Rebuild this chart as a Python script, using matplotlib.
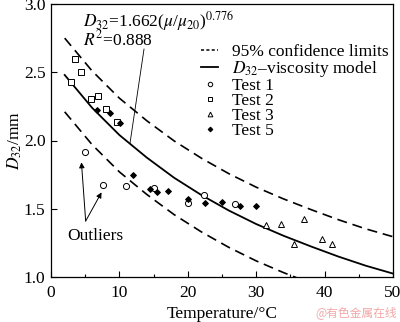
import numpy as np
import matplotlib
matplotlib.use('Agg')
import matplotlib.pyplot as plt
from matplotlib.lines import Line2D

plt.rcParams['font.family'] = ['Liberation Serif', 'DejaVu Serif']
plt.rcParams['mathtext.fontset'] = 'stix'
plt.rcParams['font.size'] = 12.5

# model curve and 95% limits
t_model = [2, 6, 10, 14, 18, 22, 26, 30, 34, 38, 42, 46, 50]
d_model = [2.48, 2.24, 2.04, 1.875, 1.727, 1.60, 1.487, 1.388, 1.302, 1.224, 1.150, 1.083, 1.025]
d_upper = [2.75, 2.51, 2.31, 2.145, 1.997, 1.87, 1.757, 1.658, 1.572, 1.494, 1.42, 1.353, 1.295]
t_lower = [2, 6, 10, 14, 18, 22, 26, 30, 34, 38]
d_lower = [2.21, 1.97, 1.77, 1.605, 1.457, 1.33, 1.217, 1.118, 1.032, 0.954]

# measurements
t1_x = [4.93, 7.56, 10.92, 15.05, 19.99, 22.37, 26.9]
t1_y = [1.918, 1.674, 1.667, 1.654, 1.544, 1.603, 1.535]
t2_x = [2.92, 3.46, 4.39, 5.85, 6.87, 8.04, 9.61]
t2_y = [2.431, 2.599, 2.500, 2.306, 2.326, 2.233, 2.133]
t3_x = [31.48, 33.58, 35.53, 37.03, 39.58, 41.04]
t3_y = [1.381, 1.388, 1.244, 1.427, 1.278, 1.242]
t5_x = [6.77, 8.63, 10.13, 11.99, 14.47, 15.45, 17.06, 19.99, 22.47, 25.04, 27.63, 29.97]
t5_y = [2.221, 2.204, 2.130, 1.747, 1.642, 1.625, 1.630, 1.571, 1.544, 1.549, 1.520, 1.518]

fig = plt.figure(figsize=(4.0, 3.22), dpi=100)
ax = fig.add_axes([51/400, 1-277/322, 342/400, 273/322])

dash = (6, 3.5)
ax.plot(t_model, d_upper, 'k', lw=1.2, dashes=dash)
ax.plot(t_lower, d_lower, 'k', lw=1.2, dashes=dash)
ax.plot(t_model, d_model, 'k', lw=1.3)

mk = dict(linestyle='none', mec='k', mew=0.7)
ax.plot(t1_x, t1_y, marker='o', mfc='white', ms=4.4, **mk)
ax.plot(t2_x, t2_y, marker='s', mfc='white', ms=4.4, **mk)
ax.plot(t3_x, t3_y, marker='^', mfc='white', ms=4.7, **mk)
ax.plot(t5_x, t5_y, marker='D', mfc='k', ms=3.0, **mk)

ax.set_xlim(0, 50)
ax.set_ylim(1.0, 3.0)
ax.set_xticks([0, 10, 20, 30, 40, 50])
ax.set_xticks(np.arange(5, 50, 10), minor=True)
ax.set_yticks([1.0, 1.5, 2.0, 2.5, 3.0])
ax.tick_params(direction='in', length=4, width=0.8)
ax.tick_params(axis='x', pad=6)
ax.tick_params(axis='y', pad=4)
ax.tick_params(which='minor', direction='in', length=2, width=0.8)
for s in ax.spines.values():
    s.set_linewidth(0.9)

ax.set_xlabel('Temperature/°C', labelpad=3)
ax.set_ylabel(r'$D_{32}$/mm', labelpad=0)

ax.text(4.68, 2.70,
        r'$D_{32}$=1.662($\mu$/$\mu_{20}$)$^{0.776}$' + '\n' + r'$R^2$=0.888',
        va='baseline', ha='left', linespacing=0.75)
ax.plot([13.6, 11.55], [2.67, 1.98], color='k', lw=0.6)

ax.text(6.45, 1.30, 'Outliers', ha='center', va='center')
for tip in [(4.45, 1.84), (7.39, 1.62)]:
    ax.annotate('', xy=tip, xytext=(5.07, 1.41),
                arrowprops=dict(arrowstyle='-|>', color='k', lw=0.7,
                                mutation_scale=8, shrinkA=0, shrinkB=0))

handles = [
    Line2D([], [], color='k', lw=1.1, dashes=(2, 1.5)),
    Line2D([], [], color='k', lw=1.3),
    Line2D([], [], marker='o', mfc='white', ms=3.2, **mk),
    Line2D([], [], marker='s', mfc='white', ms=3.2, **mk),
    Line2D([], [], marker='^', mfc='white', ms=3.4, **mk),
    Line2D([], [], marker='D', mfc='k', ms=2.4, **mk),
]
labels = ['95% confidence limits', r'$D_{32}$–viscosity model',
          'Test 1', 'Test 2', 'Test 3', 'Test 5']
ax.legend(handles, labels, loc='upper left', bbox_to_anchor=(0.44, 0.855),
          frameon=False, borderpad=0, borderaxespad=0, handlelength=0.95,
          handletextpad=0.8, labelspacing=-0.06, fontsize=12.5)

fig.text(397/400, 1-313/322, '@有色金属在线', ha='right', va='center',
         fontsize=8.5, color='#f2a8a8', family=['Noto Sans CJK SC', 'DejaVu Sans'])

fig.savefig('out.png', dpi=100)
